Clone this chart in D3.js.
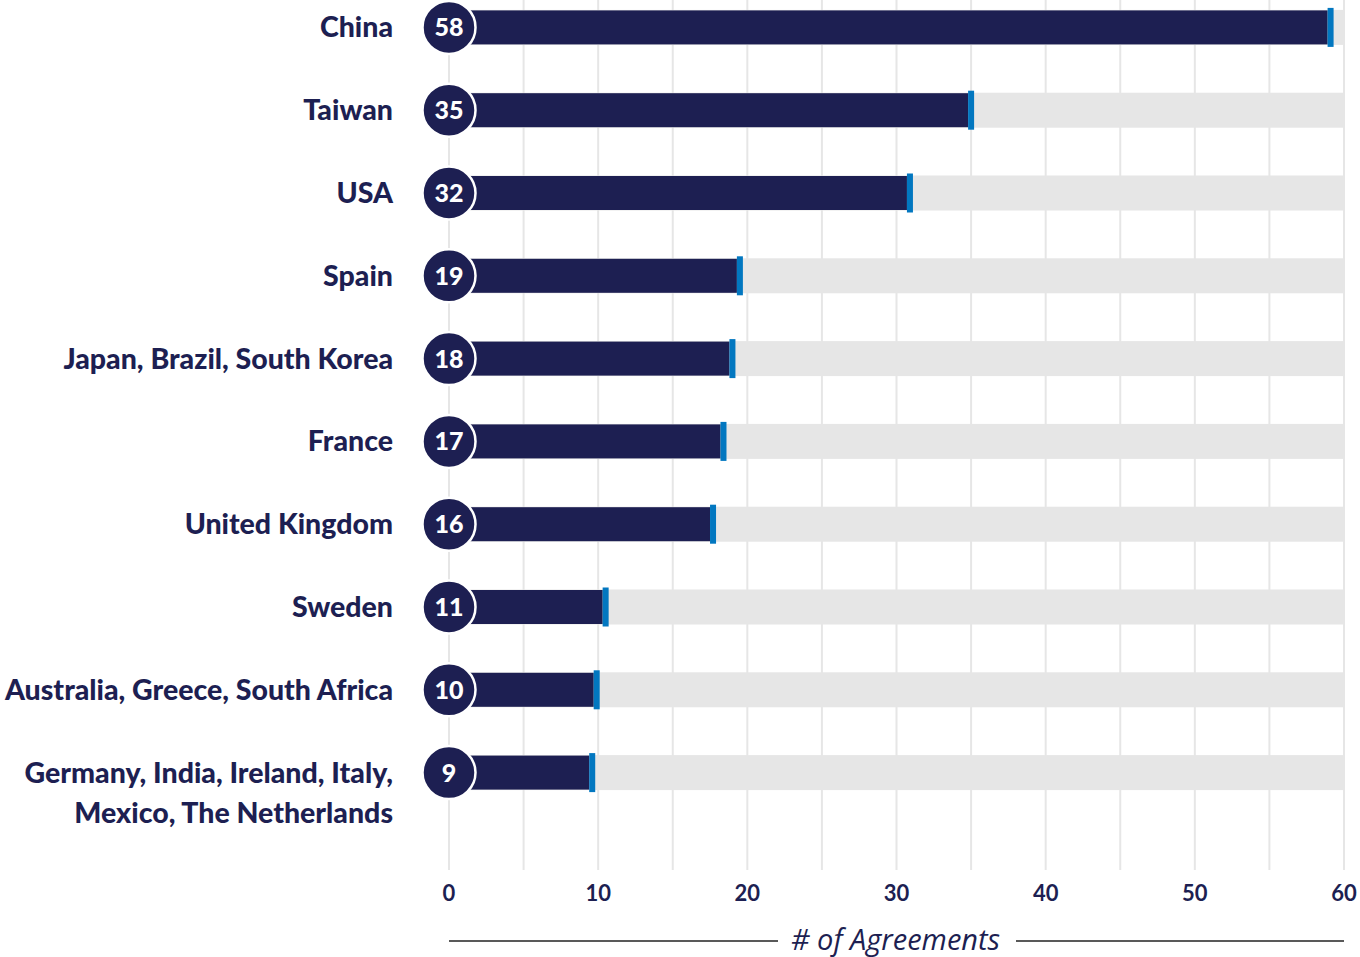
<!DOCTYPE html>
<html>
<head>
<meta charset="utf-8">
<script src="https://cdn.jsdelivr.net/npm/d3@7"></script>
<style>
  body { margin: 0; background: #fff; }
</style>
</head>
<body>
<div id="chart"></div>
<script>
// data
var countries = [
  ["China"],
  ["Taiwan"],
  ["USA"],
  ["Spain"],
  ["Japan, Brazil, South Korea"],
  ["France"],
  ["United Kingdom"],
  ["Sweden"],
  ["Australia, Greece, South Africa"],
  ["Germany, India, Ireland, Italy,", "Mexico, The Netherlands"]
];
var agreements = [58, 35, 32, 19, 18, 17, 16, 11, 10, 9];
// where each bar actually stops in the picture (not exactly the count)
var barEnds = [58.9, 34.8, 30.7, 19.3, 18.8, 18.2, 17.5, 10.3, 9.7, 9.4];
var tickValues = [0, 10, 20, 30, 40, 50, 60];
var gridValues = [0, 5, 10, 15, 20, 25, 30, 35, 40, 45, 50, 55, 60];

var navy = "#1d1f52", blue = "#0277c0", track = "#e6e6e6";

var width = 1360, height = 957;
var svg = d3.select("#chart")
  .append("svg")
  .attr("width", width)
  .attr("height", height);

var x = d3.scaleLinear()
  .domain([0, 60])
  .range([449, 1344]);

var y = d3.scaleBand()
  .domain(d3.range(countries.length))
  .range([-14, 814])
  .padding(0);

function cy(i) { return y(i) + y.bandwidth() / 2; }

// grid lines
svg.append("g")
  .selectAll("line")
  .data(gridValues)
  .join("line")
  .attr("x1", d => x(d))
  .attr("x2", d => x(d))
  .attr("y1", 0)
  .attr("y2", 870)
  .attr("stroke", track)
  .attr("stroke-width", 2);

// grey tracks
svg.append("g")
  .selectAll("rect")
  .data(agreements)
  .join("rect")
  .attr("x", x(0))
  .attr("y", (d, i) => cy(i) - 17.5)
  .attr("width", x(60) - x(0))
  .attr("height", 35)
  .attr("fill", track);

// dark bars
svg.append("g")
  .selectAll("rect")
  .data(barEnds)
  .join("rect")
  .attr("x", x(0))
  .attr("y", (d, i) => cy(i) - 17)
  .attr("width", d => x(d) - x(0))
  .attr("height", 34)
  .attr("fill", navy);

// blue end markers
svg.append("g")
  .selectAll("rect")
  .data(barEnds)
  .join("rect")
  .attr("x", d => x(d))
  .attr("y", (d, i) => cy(i) - 19.5)
  .attr("width", 6)
  .attr("height", 39)
  .attr("fill", blue);

// count circles
var badge = svg.append("g")
  .selectAll("g")
  .data(agreements)
  .join("g")
  .attr("transform", (d, i) => "translate(" + x(0) + "," + cy(i) + ")");

badge.append("circle")
  .attr("r", 26.5)
  .attr("fill", navy)
  .attr("stroke", "#fff")
  .attr("stroke-width", 2.5);

badge.append("text")
  .attr("text-anchor", "middle")
  .attr("dy", "0.36em")
  .attr("fill", "#fff")
  .style("font-family", "Lato, 'Open Sans', sans-serif")
  .style("font-weight", 900)
  .style("font-size", "25px")
  .text(d => d);

// country labels
var labels = svg.append("g")
  .selectAll("text")
  .data(countries)
  .join("text")
  .attr("x", 393)
  .attr("y", (d, i) => cy(i))
  .attr("text-anchor", "end")
  .attr("fill", navy)
  .style("font-family", "Lato, 'Noto Sans', sans-serif")
  .style("font-weight", 900)
  .style("font-size", "28.5px");

labels.selectAll("tspan")
  .data(d => d)
  .join("tspan")
  .attr("x", 393)
  .attr("dy", (d, j) => j === 0 ? "0.35em" : "40px")
  .text(d => d);

// x axis labels
svg.append("g")
  .selectAll("text")
  .data(tickValues)
  .join("text")
  .attr("x", d => x(d))
  .attr("y", 893)
  .attr("dy", "0.35em")
  .attr("text-anchor", "middle")
  .attr("fill", navy)
  .style("font-family", "Lato, 'Open Sans', sans-serif")
  .style("font-weight", 700)
  .style("font-size", "22px")
  .text(d => d);

// axis title with rules either side
var mid = (x(0) + x(60)) / 2 - 1;
svg.append("text")
  .attr("x", mid)
  .attr("y", 940)
  .attr("dy", "0.35em")
  .attr("text-anchor", "middle")
  .attr("fill", navy)
  .style("font-family", "'Open Sans', sans-serif")
  .style("font-style", "italic")
  .style("font-size", "29px")
  .text("# of Agreements");

svg.append("line")
  .attr("x1", x(0)).attr("x2", 778)
  .attr("y1", 941).attr("y2", 941)
  .attr("stroke", "#222").attr("stroke-width", 1.5);

svg.append("line")
  .attr("x1", 1016).attr("x2", x(60))
  .attr("y1", 941).attr("y2", 941)
  .attr("stroke", "#222").attr("stroke-width", 1.5);
</script>
</body>
</html>
